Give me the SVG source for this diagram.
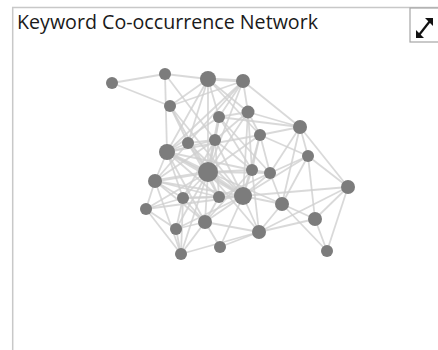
<svg xmlns="http://www.w3.org/2000/svg" width="438" height="350" viewBox="0 0 438 350">
<style>
.frame{fill:none;stroke:#c8c8c8;stroke-width:1.5}
.btn{fill:#fff;stroke:#a6a6a6;stroke-width:1.2}
.title{font-family:"Open Sans","Noto Sans",sans-serif;font-size:19.5px;fill:#1a1a1a}
.e{stroke:#d0d0d0;stroke-width:1.8;stroke-opacity:0.8;fill:none}
.t{stroke-width:3}
.n{fill:#7c7c7c}
.ico{fill:none;stroke:#111;stroke-width:2.2}
</style>
<rect width="438" height="350" fill="#fff"/>
<g id="frame">
<path class="frame" d="M12.7,350 V7.5 H438"/>
<rect class="btn" x="410" y="8" width="30" height="34"/>
<g id="expand-icon">
<path class="ico" d="M419,35 L430,21"/>
<path d="M416,38 L416,30 L424,38 Z" fill="#111"/>
<path d="M433,18 L425,18 L433,26 Z" fill="#111"/>
</g>
</g>
<text class="title" x="17" y="29" textLength="301" lengthAdjust="spacingAndGlyphs">Keyword Co-occurrence Network</text>
<g id="connectors">
<line class="e" x1="112" y1="83" x2="165" y2="74"/>
<line class="e" x1="112" y1="83" x2="170" y2="106"/>
<line class="e" x1="165" y1="74" x2="208" y2="79"/>
<line class="e" x1="165" y1="74" x2="167" y2="152"/>
<line class="e" x1="165" y1="74" x2="215" y2="140"/>
<line class="e t" x1="208" y1="79" x2="243" y2="81"/>
<line class="e" x1="208" y1="79" x2="170" y2="106"/>
<line class="e" x1="208" y1="79" x2="219" y2="117"/>
<line class="e" x1="208" y1="79" x2="167" y2="152"/>
<line class="e" x1="208" y1="79" x2="188" y2="143"/>
<line class="e" x1="208" y1="79" x2="208" y2="172"/>
<line class="e" x1="208" y1="79" x2="248" y2="112"/>
<line class="e" x1="208" y1="79" x2="260" y2="135"/>
<line class="e" x1="243" y1="81" x2="170" y2="106"/>
<line class="e" x1="243" y1="81" x2="219" y2="117"/>
<line class="e" x1="243" y1="81" x2="248" y2="112"/>
<line class="e" x1="243" y1="81" x2="300" y2="127"/>
<line class="e" x1="243" y1="81" x2="188" y2="143"/>
<line class="e" x1="243" y1="81" x2="208" y2="172"/>
<line class="e" x1="243" y1="81" x2="167" y2="152"/>
<line class="e" x1="170" y1="106" x2="208" y2="172"/>
<line class="e" x1="170" y1="106" x2="188" y2="143"/>
<line class="e" x1="170" y1="106" x2="243" y2="196"/>
<line class="e" x1="219" y1="117" x2="248" y2="112"/>
<line class="e" x1="219" y1="117" x2="167" y2="152"/>
<line class="e" x1="219" y1="117" x2="215" y2="140"/>
<line class="e t" x1="219" y1="117" x2="208" y2="172"/>
<line class="e" x1="219" y1="117" x2="252" y2="170"/>
<line class="e" x1="219" y1="117" x2="300" y2="127"/>
<line class="e" x1="219" y1="117" x2="270" y2="173"/>
<line class="e" x1="248" y1="112" x2="260" y2="135"/>
<line class="e" x1="248" y1="112" x2="300" y2="127"/>
<line class="e" x1="248" y1="112" x2="215" y2="140"/>
<line class="e" x1="248" y1="112" x2="208" y2="172"/>
<line class="e" x1="248" y1="112" x2="243" y2="196"/>
<line class="e" x1="248" y1="112" x2="252" y2="170"/>
<line class="e" x1="300" y1="127" x2="260" y2="135"/>
<line class="e" x1="300" y1="127" x2="308" y2="156"/>
<line class="e" x1="300" y1="127" x2="270" y2="173"/>
<line class="e" x1="300" y1="127" x2="348" y2="187"/>
<line class="e" x1="300" y1="127" x2="282" y2="204"/>
<line class="e" x1="260" y1="135" x2="208" y2="172"/>
<line class="e" x1="260" y1="135" x2="270" y2="173"/>
<line class="e" x1="260" y1="135" x2="252" y2="170"/>
<line class="e" x1="260" y1="135" x2="167" y2="152"/>
<line class="e" x1="260" y1="135" x2="243" y2="196"/>
<line class="e" x1="260" y1="135" x2="308" y2="156"/>
<line class="e" x1="167" y1="152" x2="188" y2="143"/>
<line class="e" x1="167" y1="152" x2="215" y2="140"/>
<line class="e t" x1="167" y1="152" x2="208" y2="172"/>
<line class="e" x1="167" y1="152" x2="155" y2="181"/>
<line class="e t" x1="167" y1="152" x2="243" y2="196"/>
<line class="e" x1="167" y1="152" x2="183" y2="198"/>
<line class="e" x1="167" y1="152" x2="219" y2="197"/>
<line class="e" x1="167" y1="152" x2="205" y2="222"/>
<line class="e" x1="167" y1="152" x2="252" y2="170"/>
<line class="e" x1="188" y1="143" x2="215" y2="140"/>
<line class="e" x1="188" y1="143" x2="208" y2="172"/>
<line class="e" x1="188" y1="143" x2="243" y2="196"/>
<line class="e" x1="188" y1="143" x2="155" y2="181"/>
<line class="e" x1="188" y1="143" x2="219" y2="197"/>
<line class="e" x1="215" y1="140" x2="208" y2="172"/>
<line class="e" x1="215" y1="140" x2="243" y2="196"/>
<line class="e" x1="215" y1="140" x2="155" y2="181"/>
<line class="e" x1="215" y1="140" x2="252" y2="170"/>
<line class="e" x1="215" y1="140" x2="183" y2="198"/>
<line class="e" x1="215" y1="140" x2="219" y2="197"/>
<line class="e" x1="308" y1="156" x2="270" y2="173"/>
<line class="e" x1="308" y1="156" x2="348" y2="187"/>
<line class="e" x1="308" y1="156" x2="282" y2="204"/>
<line class="e" x1="308" y1="156" x2="315" y2="219"/>
<line class="e" x1="308" y1="156" x2="243" y2="196"/>
<line class="e" x1="208" y1="172" x2="252" y2="170"/>
<line class="e" x1="208" y1="172" x2="270" y2="173"/>
<line class="e t" x1="208" y1="172" x2="155" y2="181"/>
<line class="e" x1="208" y1="172" x2="183" y2="198"/>
<line class="e" x1="208" y1="172" x2="219" y2="197"/>
<line class="e t" x1="208" y1="172" x2="243" y2="196"/>
<line class="e" x1="208" y1="172" x2="282" y2="204"/>
<line class="e" x1="208" y1="172" x2="146" y2="209"/>
<line class="e" x1="208" y1="172" x2="205" y2="222"/>
<line class="e" x1="208" y1="172" x2="176" y2="229"/>
<line class="e" x1="208" y1="172" x2="259" y2="232"/>
<line class="e" x1="208" y1="172" x2="181" y2="254"/>
<line class="e" x1="252" y1="170" x2="270" y2="173"/>
<line class="e" x1="252" y1="170" x2="243" y2="196"/>
<line class="e" x1="252" y1="170" x2="205" y2="222"/>
<line class="e" x1="252" y1="170" x2="259" y2="232"/>
<line class="e" x1="270" y1="173" x2="243" y2="196"/>
<line class="e" x1="270" y1="173" x2="282" y2="204"/>
<line class="e" x1="270" y1="173" x2="219" y2="197"/>
<line class="e" x1="155" y1="181" x2="183" y2="198"/>
<line class="e" x1="155" y1="181" x2="243" y2="196"/>
<line class="e" x1="155" y1="181" x2="146" y2="209"/>
<line class="e" x1="155" y1="181" x2="181" y2="254"/>
<line class="e" x1="155" y1="181" x2="205" y2="222"/>
<line class="e" x1="155" y1="181" x2="219" y2="197"/>
<line class="e" x1="348" y1="187" x2="243" y2="196"/>
<line class="e" x1="348" y1="187" x2="315" y2="219"/>
<line class="e" x1="348" y1="187" x2="327" y2="251"/>
<line class="e" x1="348" y1="187" x2="259" y2="232"/>
<line class="e" x1="183" y1="198" x2="219" y2="197"/>
<line class="e" x1="183" y1="198" x2="243" y2="196"/>
<line class="e" x1="183" y1="198" x2="146" y2="209"/>
<line class="e" x1="183" y1="198" x2="205" y2="222"/>
<line class="e" x1="183" y1="198" x2="181" y2="254"/>
<line class="e" x1="183" y1="198" x2="176" y2="229"/>
<line class="e" x1="219" y1="197" x2="243" y2="196"/>
<line class="e" x1="219" y1="197" x2="205" y2="222"/>
<line class="e" x1="243" y1="196" x2="282" y2="204"/>
<line class="e" x1="243" y1="196" x2="205" y2="222"/>
<line class="e" x1="243" y1="196" x2="259" y2="232"/>
<line class="e" x1="243" y1="196" x2="176" y2="229"/>
<line class="e" x1="243" y1="196" x2="220" y2="247"/>
<line class="e" x1="243" y1="196" x2="146" y2="209"/>
<line class="e" x1="282" y1="204" x2="315" y2="219"/>
<line class="e" x1="282" y1="204" x2="259" y2="232"/>
<line class="e" x1="282" y1="204" x2="327" y2="251"/>
<line class="e" x1="146" y1="209" x2="176" y2="229"/>
<line class="e" x1="146" y1="209" x2="181" y2="254"/>
<line class="e" x1="205" y1="222" x2="176" y2="229"/>
<line class="e" x1="205" y1="222" x2="220" y2="247"/>
<line class="e" x1="205" y1="222" x2="259" y2="232"/>
<line class="e" x1="205" y1="222" x2="181" y2="254"/>
<line class="e" x1="176" y1="229" x2="181" y2="254"/>
<line class="e" x1="315" y1="219" x2="259" y2="232"/>
<line class="e" x1="315" y1="219" x2="327" y2="251"/>
<line class="e" x1="259" y1="232" x2="220" y2="247"/>
<line class="e" x1="259" y1="232" x2="181" y2="254"/>
</g>
<g id="node-1"><circle class="n" cx="112" cy="83" r="6"/></g>
<g id="node-2"><circle class="n" cx="165" cy="74" r="6"/></g>
<g id="node-3"><circle class="n" cx="208" cy="79" r="8"/></g>
<g id="node-4"><circle class="n" cx="243" cy="81" r="7"/></g>
<g id="node-5"><circle class="n" cx="170" cy="106" r="6"/></g>
<g id="node-6"><circle class="n" cx="219" cy="117" r="6"/></g>
<g id="node-7"><circle class="n" cx="248" cy="112" r="6.5"/></g>
<g id="node-8"><circle class="n" cx="300" cy="127" r="7"/></g>
<g id="node-9"><circle class="n" cx="260" cy="135" r="6"/></g>
<g id="node-10"><circle class="n" cx="167" cy="152" r="8"/></g>
<g id="node-11"><circle class="n" cx="188" cy="143" r="6"/></g>
<g id="node-12"><circle class="n" cx="215" cy="140" r="6"/></g>
<g id="node-13"><circle class="n" cx="308" cy="156" r="6"/></g>
<g id="node-14"><circle class="n" cx="208" cy="172" r="10"/></g>
<g id="node-15"><circle class="n" cx="252" cy="170" r="6"/></g>
<g id="node-16"><circle class="n" cx="270" cy="173" r="6"/></g>
<g id="node-17"><circle class="n" cx="155" cy="181" r="7"/></g>
<g id="node-18"><circle class="n" cx="348" cy="187" r="7"/></g>
<g id="node-19"><circle class="n" cx="183" cy="198" r="6"/></g>
<g id="node-20"><circle class="n" cx="219" cy="197" r="6"/></g>
<g id="node-21"><circle class="n" cx="243" cy="196" r="9"/></g>
<g id="node-22"><circle class="n" cx="282" cy="204" r="7"/></g>
<g id="node-23"><circle class="n" cx="146" cy="209" r="6"/></g>
<g id="node-24"><circle class="n" cx="205" cy="222" r="7"/></g>
<g id="node-25"><circle class="n" cx="176" cy="229" r="6"/></g>
<g id="node-26"><circle class="n" cx="315" cy="219" r="7"/></g>
<g id="node-27"><circle class="n" cx="259" cy="232" r="7"/></g>
<g id="node-28"><circle class="n" cx="220" cy="247" r="6"/></g>
<g id="node-29"><circle class="n" cx="181" cy="254" r="6"/></g>
<g id="node-30"><circle class="n" cx="327" cy="251" r="6"/></g>
</svg>
